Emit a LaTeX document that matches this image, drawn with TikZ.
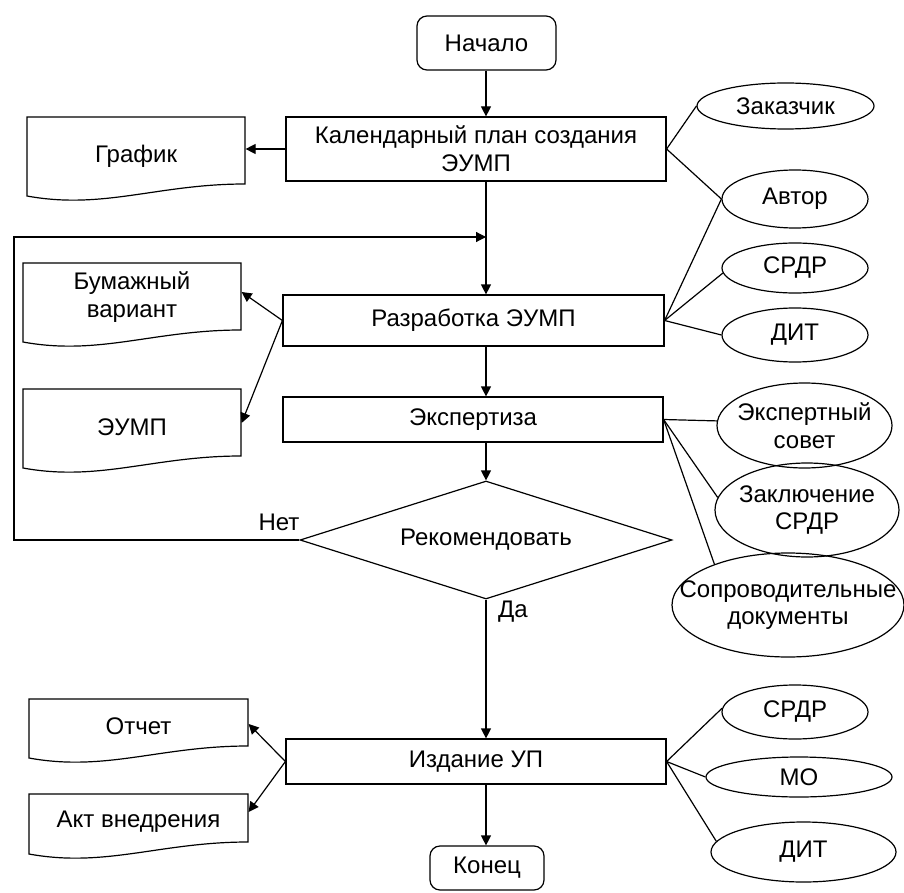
\documentclass[tikz,border=0pt]{standalone}
\usepackage{fontspec}
\setmainfont{Liberation Sans}
\usetikzlibrary{arrows.meta,shapes.geometric}
\newcommand{\docshape}[4]{\draw (#1,#2) -- (#3,#2) -- (#3,#4) .. controls ({#3-0.4*(#3-#1)},#4) and ({#1+0.35*(#3-#1)},{#4+26}) .. (#1,{#4+12}) -- cycle;}
\tikzset{
  every node/.style={font=\fontsize{12}{13.8}\selectfont, align=center},
  proc/.style={draw, rectangle, inner sep=0pt},
  term/.style={draw, rectangle, rounded corners=5pt, inner sep=0pt},
  ell/.style={draw, ellipse, inner sep=-40pt},
  doctext/.style={inner sep=0pt},
  arr/.style={-{Triangle[length=5pt,width=5pt]}},
}
\begin{document}
\begin{tikzpicture}[x=0.5pt, y=-0.5pt, line width=0.6pt]
\useasboundingbox (0,0) rectangle (904,893);
% main column
\node[term, minimum width=69.5pt, minimum height=27pt] (nach) at (486.5,43) {Начало};
\node[proc, minimum width=190pt, minimum height=32pt] (kal) at (476,149) {Календарный план создания\\ЭУМП};
\node[proc, minimum width=190.5pt, minimum height=25.5pt] (razr) at (473.5,320.5) {Разработка ЭУМП};
\node[proc, minimum width=190pt, minimum height=22.5pt] (eksp) at (473,419.5) {Экспертиза};
\node[draw, diamond, aspect=3.15, minimum width=186pt, minimum height=59pt, inner sep=0pt] (rec) at (486,540) {Рекомендовать};
\node[proc, minimum width=190pt, minimum height=22.5pt] (izd) at (476,761.5) {Издание УП};
\node[term, minimum width=57pt, minimum height=22pt] (kon) at (487,868) {Конец};
\coordinate (main) at (486,0);
\coordinate (loopL) at (14,237);
\coordinate (join) at (486,237);
\draw[arr] (main |- nach.south) -- (main |- kal.north);
\draw[arr] (main |- kal.south) -- (main |- razr.north);
\draw[arr] (rec.west) -| (loopL) -- (join);
\draw[arr] (main |- razr.south) -- (main |- eksp.north);
\draw[arr] (main |- eksp.south) -- (rec.north);
\draw[arr] (rec.south) -- (main |- izd.north);
\draw[arr] (main |- izd.south) -- (main |- kon.north);
\node (net) at (279,522) {Нет};
\node (da) at (513,612) {Да};
% documents
\docshape{27}{117}{245}{184}
\node[doctext, minimum width=109pt] (graf) at (136,156) {График};
\docshape{23}{263}{241}{330}
\node[doctext, minimum width=109pt] (bum) at (132,297) {Бумажный\\вариант};
\docshape{23}{389}{241}{456}
\node[doctext, minimum width=109pt] (eump) at (132,427) {ЭУМП};
\docshape{29}{699}{248}{746}
\node[doctext, minimum width=109.5pt] (otch) at (138.5,726) {Отчет};
\docshape{29}{794}{248}{842}
\node[doctext, minimum width=109.5pt] (akt) at (138.5,822) {Акт внедрения};
\draw[arr] (kal.west) -- (kal.west -| graf.east);
\draw[arr] (razr.west) -- ([yshift=2.5pt]bum.east);
\draw[arr] (razr.west) -- ([yshift=2pt]eump.east);
\draw[arr] (izd.west) -- ([yshift=1pt]otch.east);
\draw[arr] (izd.west) -- ([yshift=5pt]akt.east);
% ellipses
\node[ell, minimum width=88.5pt, minimum height=23pt] (zak) at (785.5,106) {Заказчик};
\node[ell, minimum width=73pt, minimum height=29pt] (avt) at (795,199) {Автор};
\node[ell, minimum width=73pt, minimum height=25pt] (srdr1) at (795,268) {СРДР};
\node[ell, minimum width=73pt, minimum height=27pt] (dit1) at (795,335) {ДИТ};
\node[ell, minimum width=87.5pt, minimum height=42.5pt] (eks) at (804.5,425.5) {Экспертный\\совет};
\node[ell, minimum width=92pt, minimum height=47pt] (zakl) at (807,510) {Заключение\\СРДР};
\node[ell, minimum width=116pt, minimum height=52pt] (sop) at (788,605) {Сопроводительные\\документы};
\node[ell, minimum width=73pt, minimum height=27pt] (srdr2) at (795,712) {СРДР};
\node[ell, minimum width=93pt, minimum height=20pt] (mo) at (799,777) {МО};
\node[ell, minimum width=92.5pt, minimum height=30pt] (dit2) at (803.5,852) {ДИТ};
\draw (kal.east) -- (zak.west);
\draw (kal.east) -- (avt.west);
\draw (razr.east) -- (avt.west);
\draw (razr.east) -- (srdr1.184);
\draw (razr.east) -- (dit1.west);
\draw (eksp.east) -- (eks.177);
\draw (eksp.east) -- (zakl.172);
\draw (eksp.east) -- (sop.151);
\draw (izd.east) -- (srdr2.177);
\draw (izd.east) -- (mo.west);
\draw (izd.east) -- (dit2.173);
\end{tikzpicture}
\end{document}
